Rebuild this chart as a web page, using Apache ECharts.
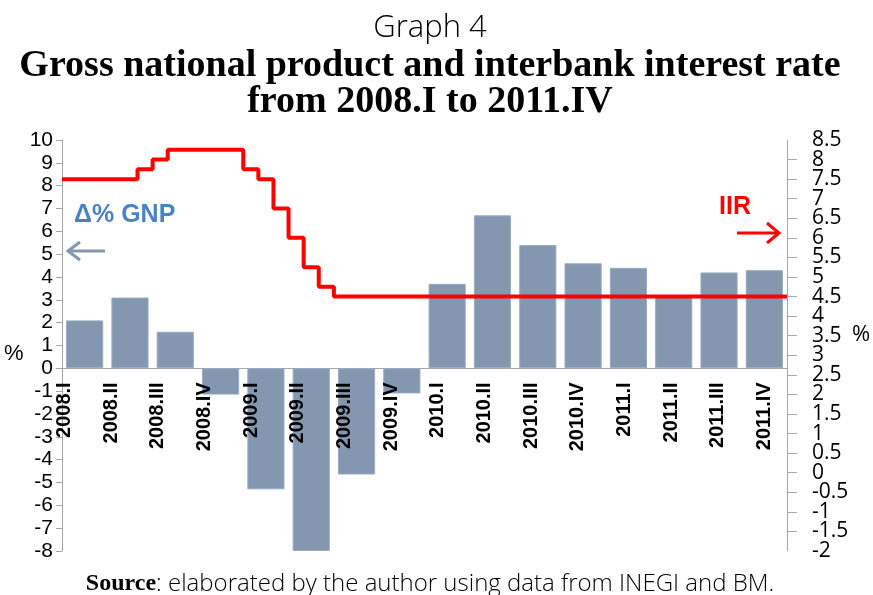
<!DOCTYPE html>
<html>
<head>
<meta charset="utf-8">
<script src="https://cdn.jsdelivr.net/npm/echarts@6/dist/echarts.min.js"></script>
<style>
  html, body { margin: 0; padding: 0; background: #ffffff; }
  #chart { width: 873px; height: 595px; }
</style>
</head>
<body>
<div id="chart"></div>
<script>
// Quarterly categories
const quarters = [
  '2008.I', '2008.II', '2008.III', '2008.IV',
  '2009.I', '2009.II', '2009.III', '2009.IV',
  '2010.I', '2010.II', '2010.III', '2010.IV',
  '2011.I', '2011.II', '2011.III', '2011.IV'
];

// Annual % change of gross national product, per quarter
const gnpChange = [2.1, 3.1, 1.6, -1.15, -5.3, -8.0, -4.65, -1.1, 3.7, 6.7, 5.4, 4.6, 4.4, 3.2, 4.2, 4.3];

// Interbank interest rate, monthly, Jan 2008 - Dec 2011
const iirMonthly = [
  7.5, 7.5, 7.5, 7.5, 7.5, 7.75, 8.0, 8.25, 8.25, 8.25, 8.25, 8.25,
  7.75, 7.5, 6.75, 6.0, 5.25, 4.75, 4.5, 4.5, 4.5, 4.5, 4.5, 4.5,
  4.5, 4.5, 4.5, 4.5, 4.5, 4.5, 4.5, 4.5, 4.5, 4.5, 4.5, 4.5,
  4.5, 4.5, 4.5, 4.5, 4.5, 4.5, 4.5, 4.5, 4.5, 4.5, 4.5, 4.5
];

// Axis ranges
const gnpAxis = { min: -8, max: 10, interval: 1 };
const iirAxis = { min: -2, max: 8.5, interval: 0.5 };

// Each month's rate holds until the next month starts
const iirPoints = iirMonthly.map((v, i) => [i, v]);
iirPoints.push([iirMonthly.length, iirMonthly[iirMonthly.length - 1]]);

const axisGray = '#a6a6a6';
const barColor = '#8497b0';
const lightFont = '"Open Sans", "Noto Sans", sans-serif';
const serifFont = '"Liberation Serif", "DejaVu Serif", serif';
const sansFont = '"Liberation Sans", Arial, sans-serif';
const centerX = 430;
const chartHeight = 595;

// Bars and the rate line share the same plot rectangle
const plotRect = { left: 62, right: 86, top: 140, bottom: 44, containLabel: false, outerBoundsMode: 'none' };
// Strip that carries the rotated quarter labels under the zero line
const labelRect = { left: 41, right: 85, top: 140, bottom: 44, containLabel: false, outerBoundsMode: 'none' };

const rightLabelStyle = { fontFamily: lightFont, fontSize: 21, color: '#000', hideOverlap: false };

const chart = echarts.init(document.getElementById('chart'), null, { renderer: 'canvas' });

chart.setOption({
  backgroundColor: '#ffffff',
  animation: false,
  grid: [Object.assign({}, plotRect), Object.assign({}, plotRect), Object.assign({}, labelRect)],
  xAxis: [
    {
      gridIndex: 0,
      type: 'category',
      data: quarters,
      axisLine: { onZero: true, lineStyle: { color: axisGray, width: 1 } },
      axisTick: { show: false },
      axisLabel: { show: false }
    },
    {
      gridIndex: 1,
      type: 'value', min: 0, max: iirMonthly.length, show: false
    },
    {
      gridIndex: 2,
      type: 'category',
      data: quarters,
      position: 'bottom',
      z: 10,
      axisLine: { show: false, onZero: false },
      axisTick: { show: false },
      axisLabel: {
        rotate: 90, margin: 14, interval: 0,
        fontFamily: sansFont, fontWeight: 'bold',
        fontSize: 20, color: '#000'
      }
    }
  ],
  yAxis: [
    {
      gridIndex: 0,
      type: 'value',
      min: gnpAxis.min, max: gnpAxis.max, interval: gnpAxis.interval,
      axisLine: { show: true, onZero: false, lineStyle: { color: axisGray } },
      axisTick: { show: true, length: 6, lineStyle: { color: axisGray } },
      splitLine: { show: false },
      axisLabel: {
        margin: 9, fontFamily: sansFont, fontSize: 21, color: '#000',
        showMinLabel: true, showMaxLabel: true
      }
    },
    {
      // rate axis: line, ticks and inner labels
      gridIndex: 1,
      type: 'value', position: 'right',
      min: iirAxis.min, max: iirAxis.max, interval: iirAxis.interval,
      axisLine: { show: true, onZero: false, lineStyle: { color: axisGray } },
      axisTick: { show: true, length: 10, lineStyle: { color: axisGray } },
      splitLine: { show: false },
      axisLabel: Object.assign({ margin: 25, showMinLabel: false, showMaxLabel: false }, rightLabelStyle)
    },
    {
      // rate axis: end labels only
      gridIndex: 1,
      type: 'value', position: 'right',
      min: iirAxis.min, max: iirAxis.max, interval: iirAxis.interval,
      axisLine: { show: false, onZero: false },
      axisTick: { show: false },
      splitLine: { show: false },
      axisLabel: Object.assign({
        margin: 25, showMinLabel: true, showMaxLabel: true,
        formatter: v => (v === iirAxis.min || v === iirAxis.max) ? String(v) : ''
      }, rightLabelStyle)
    },
    {
      gridIndex: 2,
      type: 'value', show: false
    }
  ],
  series: [
    {
      name: 'Δ% GNP',
      type: 'bar',
      xAxisIndex: 0, yAxisIndex: 0,
      data: gnpChange,
      barCategoryGap: '18%',
      itemStyle: { color: barColor, borderColor: '#9aaac0', borderWidth: 1 },
      z: 2
    },
    {
      name: 'IIR',
      type: 'line',
      xAxisIndex: 1, yAxisIndex: 1,
      data: iirPoints,
      step: 'end',
      symbol: 'none',
      lineStyle: { color: '#ff0000', width: 4 },
      z: 3
    }
  ],
  graphic: [
    // Headings
    { type: 'text', x: centerX, y: 13,
      style: { text: 'Graph 4', textAlign: 'center', textVerticalAlign: 'top',
               font: '300 31px ' + lightFont, fill: '#000' } },
    { type: 'text', x: centerX, y: 47,
      style: { text: 'Gross national product and interbank interest rate', textAlign: 'center',
               textVerticalAlign: 'top', font: 'bold 38px ' + serifFont, fill: '#000' } },
    { type: 'text', x: centerX, y: 83,
      style: { text: 'from 2008.I to 2011.IV', textAlign: 'center',
               textVerticalAlign: 'top', font: 'bold 38px ' + serifFont, fill: '#000' } },
    // Source note
    { type: 'text', x: centerX, y: 572,
      style: {
        text: '{b|Source}: elaborated by the author using data from INEGI and BM.',
        textAlign: 'center', textVerticalAlign: 'top',
        font: '300 24px ' + lightFont, fill: '#000',
        rich: { b: { fontFamily: serifFont, fontWeight: 'bold', fontSize: 24, fill: '#000' } }
      } },
    // Left axis unit
    { type: 'text', left: 4, top: 343,
      style: { text: '%', font: '22px ' + sansFont, fill: '#000' } },
    // Right axis unit
    { type: 'text', left: 852, top: 324,
      style: { text: '%', font: '22px ' + lightFont, fill: '#000' } },
    // GNP annotation
    { type: 'text', left: 74, top: 203,
      style: { text: 'Δ% GNP', font: 'bold 25px ' + sansFont,
               fill: '#4a83c4', shadowColor: 'rgba(74,131,196,0.35)', shadowBlur: 3 } },
    { type: 'polyline', shape: { points: [[105, 251], [68, 251]] },
      style: { stroke: barColor, lineWidth: 3, fill: null } },
    { type: 'polyline', shape: { points: [[80, 242], [68, 251], [80, 260]] },
      style: { stroke: barColor, lineWidth: 3, fill: null, lineJoin: 'miter' } },
    // IIR annotation
    { type: 'text', left: 719, top: 195,
      style: { text: 'IIR', font: 'bold 25px ' + sansFont, fill: '#ff0000' } },
    { type: 'polyline', shape: { points: [[737, 233], [779, 233]] },
      style: { stroke: '#ff0000', lineWidth: 3, fill: null } },
    { type: 'polyline', shape: { points: [[767, 223], [779, 233], [767, 243]] },
      style: { stroke: '#ff0000', lineWidth: 3, fill: null, lineJoin: 'miter' } }
  ]
});

// Hang the quarter labels from the zero line of the GNP axis
const zeroY = chart.convertToPixel({ yAxisIndex: 0 }, 0);
chart.setOption({ grid: [{}, {}, { bottom: chartHeight - zeroY }] });
</script>
</body>
</html>
